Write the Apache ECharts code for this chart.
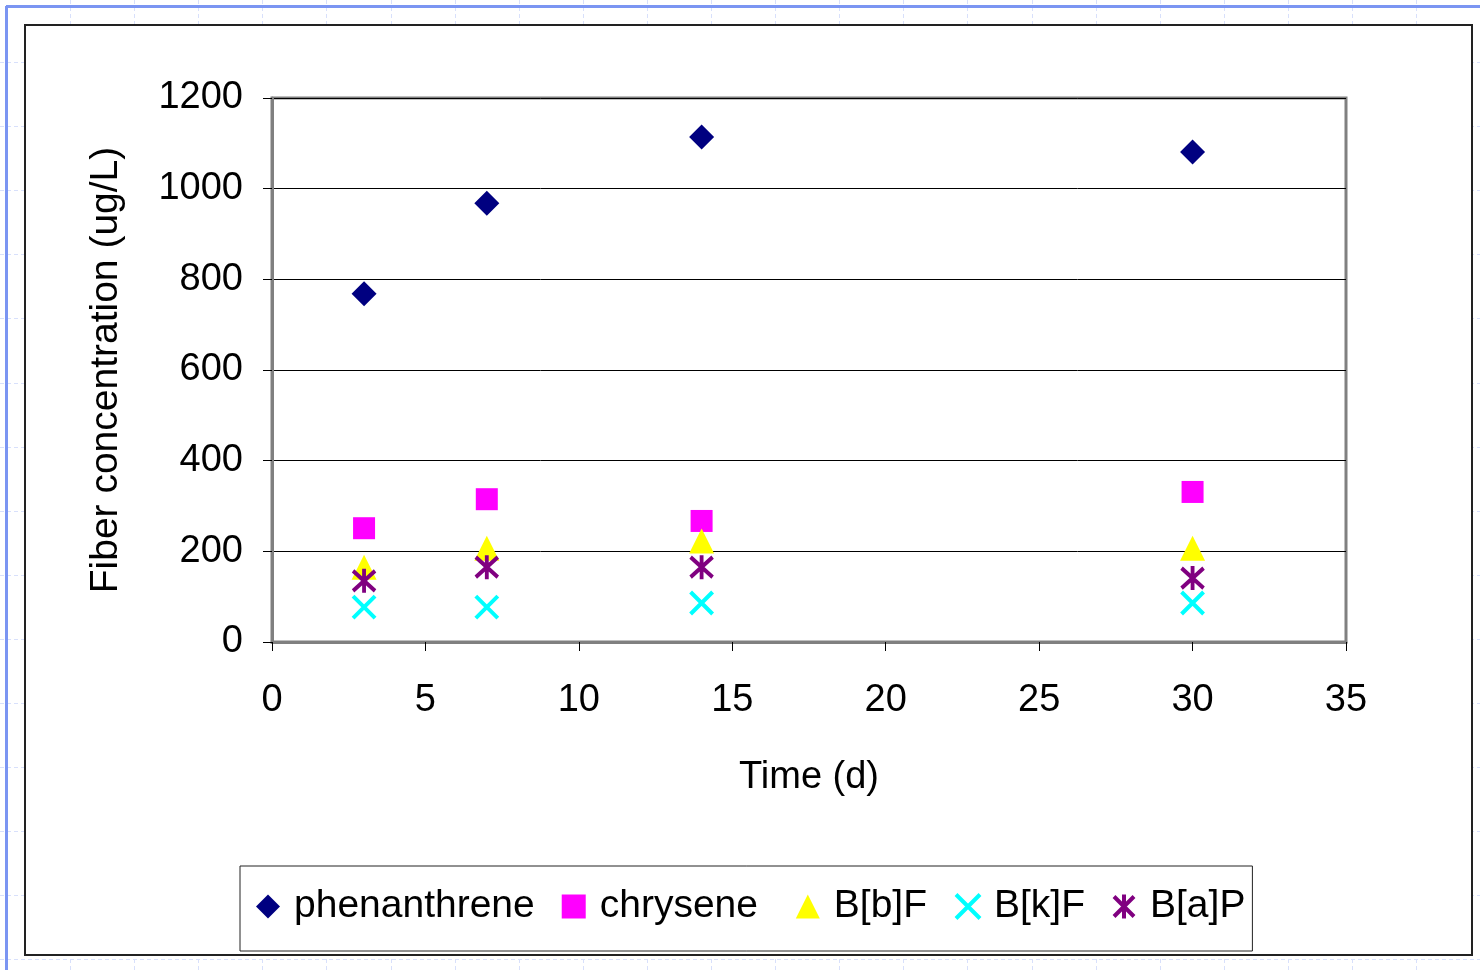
<!DOCTYPE html>
<html>
<head>
<meta charset="utf-8">
<script src="https://cdn.jsdelivr.net/npm/echarts@6/dist/echarts.min.js"></script>
<style>
html,body{margin:0;padding:0;background:#fff;}
#chart{width:1480px;height:970px;}
</style>
</head>
<body>
<div id="chart"></div>
<script>
// ---- data ----
const days = [3, 7, 14, 30];
const phenanthrene = [768, 968, 1114, 1081];
const chrysene = [251, 315, 267, 331];
const BbF = [165, 207, 223, 207];
const BkF = [77, 77, 86, 86];
const BaP = [135, 165, 165, 141];
const seriesNames = ['phenanthrene', 'chrysene', 'B[b]F', 'B[k]F', 'B[a]P'];
const xTicks = [0, 5, 10, 15, 20, 25, 30, 35];
const yTicks = [0, 200, 400, 600, 800, 1000, 1200];

const pairs = v => days.map((d, i) => [d, v[i]]);

const FONT = 'Liberation Sans, Arial, sans-serif';
const crossPath = 'path://M0,0L10,10M10,0L0,10';
const starPath = 'path://M0,0L10,10M10,0L0,10M5,-1L5,11';

// decorative slide background grid
const bg = [];
for (let x = 70; x < 1480; x += 64.1) {
  bg.push({type:'line', z:-10, silent:true, shape:{x1:Math.round(x)+0.5,y1:0,x2:Math.round(x)+0.5,y2:970},
    style:{stroke:'#d8e0fb', lineWidth:1, lineDash:[4,3]}});
}
for (let y = 62; y < 970; y += 64.1) {
  bg.push({type:'line', z:-10, silent:true, shape:{x1:0,y1:Math.round(y)+0.5,x2:1480,y2:Math.round(y)+0.5},
    style:{stroke:'#d8e0fb', lineWidth:1, lineDash:[4,3]}});
}
bg.push({type:'rect', z:-9, silent:true, shape:{x:25,y:25,width:1447,height:930},
  style:{fill:'#ffffff', stroke:'#222', lineWidth:2}});
bg.push({type:'line', z:-8, silent:true, shape:{x1:6.5,y1:6,x2:6.5,y2:970}, style:{stroke:'#7b95f2', lineWidth:3}});
bg.push({type:'line', z:-8, silent:true, shape:{x1:6,y1:6.5,x2:1480,y2:6.5}, style:{stroke:'#7b95f2', lineWidth:3}});

const legendData = seriesNames.map((n, i) => i >= 3
  ? {name: n, itemStyle: {borderWidth: 4}}
  : {name: n});

const chart = echarts.init(document.getElementById('chart'), null, {renderer:'canvas'});
chart.setOption({
  animation: false,
  backgroundColor: 'transparent',
  textStyle: {fontFamily: FONT},
  graphic: bg,
  grid: {left: 272, top: 98, width: 1074, height: 544, show: true,
         borderColor: '#808080', borderWidth: 3, backgroundColor: 'transparent'},
  legend: {
    left: 240, top: 866, orient: 'horizontal',
    padding: [21, 7, 25, 16],
    borderColor: '#222', borderWidth: 1,
    itemWidth: 24, itemHeight: 24, itemGap: 27,
    textStyle: {fontSize: 39, color: '#000', fontFamily: FONT, padding: [0, 0, 0, 9]},
    formatter: name => name === 'chrysene' ? name + ' ' : name,
    data: legendData
  },
  xAxis: {
    type: 'value', min: 0, max: 35, interval: 5,
    name: 'Time (d)', nameLocation: 'middle', nameGap: 117,
    nameTextStyle: {fontSize: 38, color: '#000', fontFamily: FONT},
    axisLine: {show: true, onZero: false, lineStyle: {color: '#808080', width: 3}},
    axisTick: {show: true, length: 9, lineStyle: {color: '#000', width: 1}},
    axisLabel: {fontSize: 38, color: '#000', margin: 40, fontFamily: FONT,
                formatter: v => String(v)},
    splitLine: {show: false}
  },
  yAxis: {
    type: 'value', min: 0, max: 1200, interval: 200,
    name: 'Fiber concentration (ug/L)', nameLocation: 'middle', nameGap: 146,
    nameTextStyle: {fontSize: 39, color: '#000', fontFamily: FONT},
    axisLine: {show: true, lineStyle: {color: '#808080', width: 3}},
    axisTick: {show: true, length: 9, lineStyle: {color: '#000', width: 1}},
    axisLabel: {fontSize: 38, color: '#000', margin: 29, fontFamily: FONT,
                formatter: v => String(v)},
    splitLine: {show: true, lineStyle: {color: '#000', width: 1}}
  },
  series: [
    {name: seriesNames[0], type: 'scatter', data: pairs(phenanthrene), symbol: 'diamond', symbolSize: [25, 25],
     itemStyle: {color: '#000080', opacity: 1}},
    {name: seriesNames[1], type: 'scatter', data: pairs(chrysene), symbol: 'rect', symbolSize: [22, 22],
     itemStyle: {color: '#FF00FF', opacity: 1}},
    {name: seriesNames[2], type: 'scatter', data: pairs(BbF), symbol: 'triangle', symbolSize: [25, 25],
     itemStyle: {color: '#FFFF00', opacity: 1}},
    {name: seriesNames[3], type: 'scatter', data: pairs(BkF), symbol: crossPath, symbolSize: [22, 22],
     itemStyle: {color: 'rgba(0,0,0,0)', borderColor: '#00FFFF', borderWidth: 4, opacity: 1}},
    {name: seriesNames[4], type: 'scatter', data: pairs(BaP), symbol: starPath, symbolSize: [22, 24],
     itemStyle: {color: 'rgba(0,0,0,0)', borderColor: '#800080', borderWidth: 4, opacity: 1}}
  ]
});
</script>
</body>
</html>
